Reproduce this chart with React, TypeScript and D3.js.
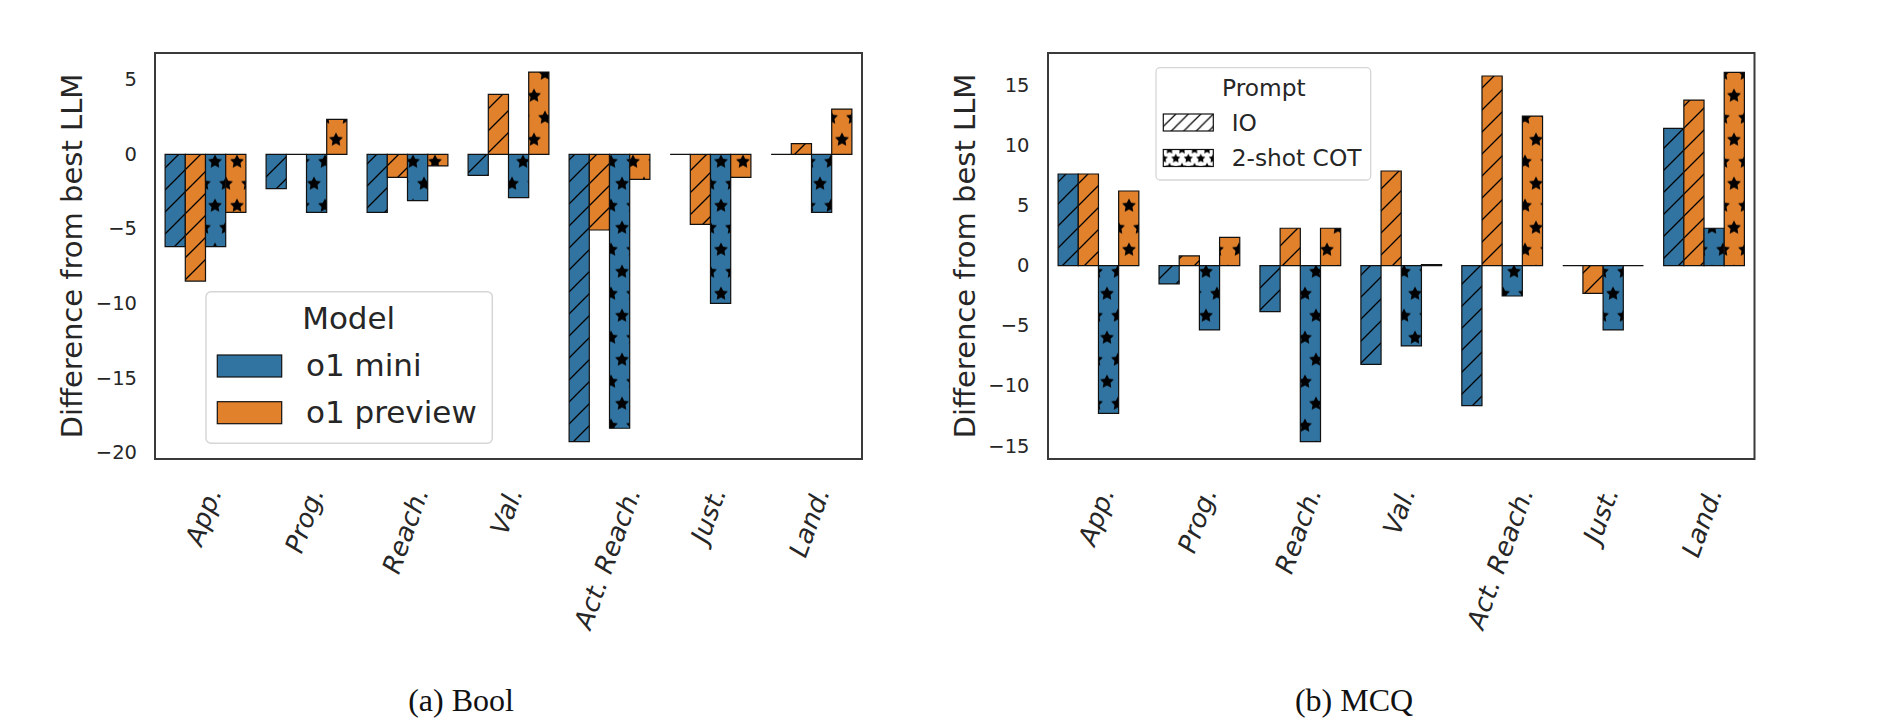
import React, { useEffect, useRef } from "react";
import * as d3 from "d3";

// ---------------- data ----------------
const categories = ["App.", "Prog.", "Reach.", "Val.", "Act. Reach.", "Just.", "Land."];
const models = ["o1 mini", "o1 preview"];
const prompts = ["IO", "2-shot COT"];

// (a) Bool
const boolMiniIO = [-6.19, -2.3, -3.89, -1.41, -19.25, 0, 0];
const boolPreviewIO = [-8.49, 0, -1.54, 4.02, -5.07, -4.69, 0.71];
const boolMiniCOT = [-6.19, -3.89, -3.11, -2.9, -18.35, -9.98, -3.89];
const boolPreviewCOT = [-3.89, 2.34, -0.78, 5.51, -1.68, -1.54, 3.03];
const boolTicks = [-20, -15, -10, -5, 0, 5];
const boolDomain = [-20.41, 6.785];

// (b) MCQ
const mcqMiniIO = [7.62, -1.52, -3.82, -8.2, -11.64, 0, 11.42];
const mcqPreviewIO = [7.62, 0.81, 3.11, 7.87, 15.77, -2.3, 13.77];
const mcqMiniCOT = [-12.27, -5.34, -14.63, -6.67, -2.52, -5.34, 3.11];
const mcqPreviewCOT = [6.21, 2.36, 3.11, 0.1, 12.44, 0, 16.07];
const mcqTicks = [-15, -10, -5, 0, 5, 10, 15];
const mcqDomain = [-16.07, 17.68];

const yLabel = "Difference from best LLM";
const captions = ["(a) Bool", "(b) MCQ"];

// ---------------- style ----------------
const BLUE = "#3274a1";
const ORANGE = "#e1812c";
const TEXT = "#262626";
const SANS = "'DejaVu Sans', Verdana, sans-serif";
const SERIF = "'Liberation Serif', 'Times New Roman', serif";

function starPath(cx: number, cy: number, R: number, r: number) {
  const pts: [number, number][] = [];
  for (let i = 0; i < 10; i++) {
    const a = -Math.PI / 2 + (i * Math.PI) / 5;
    const rad = i % 2 === 0 ? R : r;
    pts.push([cx + rad * Math.cos(a), cy + rad * Math.sin(a)]);
  }
  return "M" + pts.map((p) => p[0].toFixed(2) + "," + p[1].toFixed(2)).join("L") + "Z";
}

function boxPath(x: number, y: number, w: number, h: number) {
  return `M${x},${y}h${w}v${h}h${-w}Z`;
}

export default function App() {
  const ref = useRef<SVGSVGElement>(null);

  useEffect(() => {
    const svg = d3.select(ref.current);
    svg.selectAll("*").remove();
    const defs = svg.append("defs");

    const makeSlash = (id: string, s: number, ox: number, oy: number, sw: number) => {
      const p = defs
        .append("pattern")
        .attr("id", id)
        .attr("patternUnits", "userSpaceOnUse")
        .attr("width", s)
        .attr("height", s)
        .attr("x", ox)
        .attr("y", oy);
      p.append("path")
        .attr(
          "d",
          `M0,${s} L${s},0 M${-s / 2},${s / 2} L${s / 2},${-s / 2} M${s / 2},${1.5 * s} L${1.5 * s},${s / 2}`
        )
        .attr("stroke", "#000")
        .attr("stroke-width", sw)
        .attr("fill", "none");
    };
    const makeStar = (id: string, w: number, h: number, R: number, ox: number, oy: number) => {
      const p = defs
        .append("pattern")
        .attr("id", id)
        .attr("patternUnits", "userSpaceOnUse")
        .attr("width", w)
        .attr("height", h)
        .attr("x", ox)
        .attr("y", oy);
      const centers: [number, number][] = [
        [0, 0],
        [w, 0],
        [0, h],
        [w, h],
        [w / 2, h / 2],
      ];
      p.append("path")
        .attr("d", centers.map((c) => starPath(c[0], c[1], R, R * 0.5)).join(""))
        .attr("fill", "#000");
    };

    makeSlash("slashL", 22, 3, 0, 1.3);
    makeSlash("slashR", 22, 8, 0, 1.3);
    makeStar("starL", 22, 44, 7.3, 17, 29.7);
    makeStar("starR", 22, 44, 7.3, 7, 29.7);
    makeSlash("slashLeg", 12.5, 1163.3, 114, 1.2);
    makeStar("starLeg", 12.5, 18, 4.8, 1163.3 + 6.25, 149.5);

    const panels = [
      {
        left: 155,
        right: 862,
        series: [boolMiniIO, boolPreviewIO, boolMiniCOT, boolPreviewCOT],
        ticks: boolTicks,
        domain: boolDomain,
        slash: "slashL",
        star: "starL",
        tickX: 137,
        ylabX: 81.7,
        caption: captions[0],
        capX: 461,
      },
      {
        left: 1048,
        right: 1754.5,
        series: [mcqMiniIO, mcqPreviewIO, mcqMiniCOT, mcqPreviewCOT],
        ticks: mcqTicks,
        domain: mcqDomain,
        slash: "slashR",
        star: "starR",
        tickX: 1029.5,
        ylabX: 975,
        caption: captions[1],
        capX: 1354,
      },
    ];
    const top = 53;
    const bottom = 459;

    panels.forEach((P) => {
      const g = svg.append("g");
      const x = d3.scaleBand<string>().domain(categories).range([P.left, P.right]).padding(0);
      const hue = d3
        .scaleBand<number>()
        .domain([0, 1, 2, 3])
        .range([x.bandwidth() * 0.1, x.bandwidth() * 0.9])
        .padding(0);
      const y = d3.scaleLinear().domain(P.domain).range([bottom, top]);
      const colors = [BLUE, ORANGE, BLUE, ORANGE];
      const hatches = [P.slash, P.slash, P.star, P.star];

      // bars
      P.series.forEach((vals, j) => {
        vals.forEach((v, i) => {
          const bx = (x(categories[i]) as number) + (hue(j) as number);
          const bw = hue.bandwidth();
          const y0 = y(0);
          const y1 = y(v);
          const by = Math.min(y0, y1);
          const bh = Math.abs(y1 - y0);
          const d = boxPath(bx, by, bw, bh);
          g.append("path").attr("d", d).attr("fill", colors[j]);
          g.append("path").attr("d", d).attr("fill", `url(#${hatches[j]})`);
          g.append("path")
            .attr("d", d)
            .attr("fill", "none")
            .attr("stroke", "#111")
            .attr("stroke-width", 1.2);
        });
      });

      // frame
      g.append("rect")
        .attr("x", P.left)
        .attr("y", top)
        .attr("width", P.right - P.left)
        .attr("height", bottom - top)
        .attr("fill", "none")
        .attr("stroke", "#3a3a3a")
        .attr("stroke-width", 2);

      // y ticks
      P.ticks.forEach((t) => {
        g.append("text")
          .attr("x", P.tickX)
          .attr("y", y(t))
          .attr("text-anchor", "end")
          .attr("dominant-baseline", "central")
          .attr("font-family", SANS)
          .attr("font-size", 19.5)
          .attr("fill", TEXT)
          .text(t < 0 ? "\u2212" + Math.abs(t) : String(t));
      });

      // y label
      g.append("text")
        .attr("transform", `translate(${P.ylabX},${(top + bottom) / 2}) rotate(-90)`)
        .attr("text-anchor", "middle")
        .attr("font-family", SANS)
        .attr("font-size", 29)
        .attr("fill", TEXT)
        .text(yLabel);

      // x labels (rotated, bbox centred under category)
      const fs = 26;
      const ang = (70 * Math.PI) / 180;
      const labelTop = 485;
      categories.forEach((c) => {
        const cx = (x(c) as number) + x.bandwidth() / 2;
        const t = g
          .append("text")
          .attr("text-anchor", "middle")
          .attr("font-family", SANS)
          .attr("font-style", "italic")
          .attr("font-size", fs)
          .attr("fill", TEXT)
          .text(c);
        const L = (t.node() as SVGTextElement).getComputedTextLength();
        const H = L * Math.sin(ang) + fs * Math.cos(ang);
        t.attr("x", 0)
          .attr("y", 0.26 * fs)
          .attr("transform", `translate(${cx},${labelTop + H / 2}) rotate(-70)`);
      });

      // caption
      g.append("text")
        .attr("x", P.capX)
        .attr("y", 711)
        .attr("text-anchor", "middle")
        .attr("font-family", SERIF)
        .attr("font-size", 32)
        .attr("fill", "#111")
        .text(P.caption);
    });

    // ---- legend (a): Model ----
    const lg = svg.append("g");
    lg.append("rect")
      .attr("x", 206)
      .attr("y", 291.7)
      .attr("width", 286.3)
      .attr("height", 151.6)
      .attr("rx", 5)
      .attr("fill", "#fff")
      .attr("fill-opacity", 0.85)
      .attr("stroke", "#d6d6d6")
      .attr("stroke-width", 1.5);
    lg.append("text")
      .attr("x", 348.7)
      .attr("y", 329.3)
      .attr("text-anchor", "middle")
      .attr("font-family", SANS)
      .attr("font-size", 31)
      .attr("fill", TEXT)
      .text("Model");
    models.forEach((m, i) => {
      const py = 355 + i * 46.7;
      lg.append("rect")
        .attr("x", 217.3)
        .attr("y", py)
        .attr("width", 64.4)
        .attr("height", 22)
        .attr("fill", i === 0 ? BLUE : ORANGE)
        .attr("stroke", "#111")
        .attr("stroke-width", 1.2);
      lg.append("text")
        .attr("x", 306)
        .attr("y", py + 21.3)
        .attr("font-family", SANS)
        .attr("font-size", 31)
        .attr("fill", TEXT)
        .text(m);
    });

    // ---- legend (b): Prompt ----
    const lg2 = svg.append("g");
    lg2.append("rect")
      .attr("x", 1156)
      .attr("y", 67.7)
      .attr("width", 214.7)
      .attr("height", 112.3)
      .attr("rx", 4)
      .attr("fill", "#fff")
      .attr("fill-opacity", 0.85)
      .attr("stroke", "#d6d6d6")
      .attr("stroke-width", 1.3);
    lg2.append("text")
      .attr("x", 1263.8)
      .attr("y", 95.5)
      .attr("text-anchor", "middle")
      .attr("font-family", SANS)
      .attr("font-size", 23.3)
      .attr("fill", TEXT)
      .text("Prompt");
    prompts.forEach((p, i) => {
      const py = 114 + i * 35.5;
      lg2.append("rect")
        .attr("x", 1163.3)
        .attr("y", py)
        .attr("width", 50)
        .attr("height", 17)
        .attr("fill", "#fff");
      lg2.append("rect")
        .attr("x", 1163.3)
        .attr("y", py)
        .attr("width", 50)
        .attr("height", 17)
        .attr("fill", i === 0 ? "url(#slashLeg)" : "url(#starLeg)")
        .attr("stroke", "#111")
        .attr("stroke-width", 1.2);
      lg2.append("text")
        .attr("x", 1231.7)
        .attr("y", py + 16.7)
        .attr("font-family", SANS)
        .attr("font-size", 23.3)
        .attr("fill", TEXT)
        .text(p);
    });
  }, []);

  return (
    <svg
      ref={ref}
      width={1878}
      height={728}
      style={{ position: "absolute", left: 0, top: 0, background: "#fff" }}
    />
  );
}
